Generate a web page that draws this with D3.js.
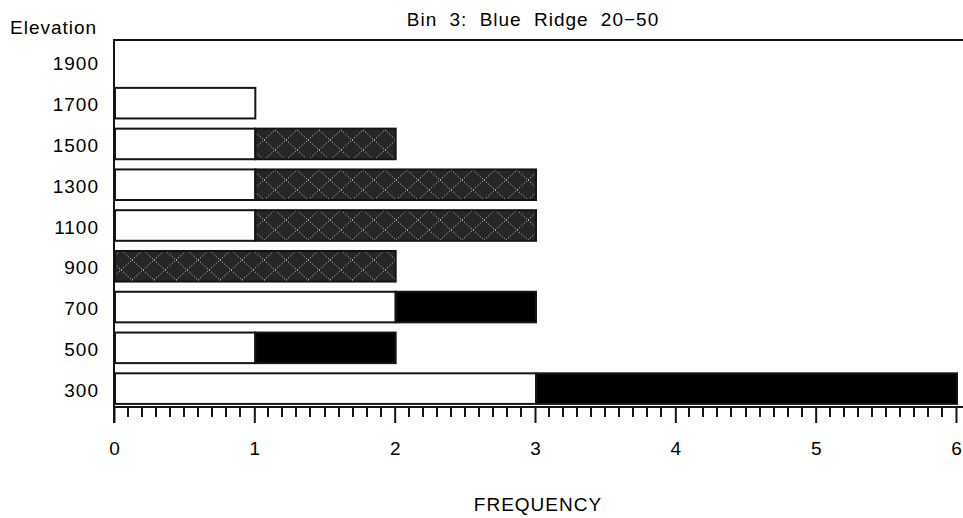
<!DOCTYPE html>
<html>
<head>
<meta charset="utf-8">
<script src="https://cdn.jsdelivr.net/npm/d3@7"></script>
<style>
  html, body { margin: 0; padding: 0; background: #fff; }
  svg { display: block; }
  text { font-family: "Liberation Sans", Arial, sans-serif; fill: #000; }
</style>
</head>
<body>
<svg id="chart" width="963" height="518"></svg>
<script>
// Elevation classes (top to bottom) and frequency per group
const elevations = ["1900", "1700", "1500", "1300", "1100", "900", "700", "500", "300"];
const groupA = [0, 1, 1, 1, 1, 0, 2, 1, 3];   // open bars
const groupB = [0, 0, 1, 2, 2, 2, 0, 0, 0];   // cross-hatched bars
const groupC = [0, 0, 0, 0, 0, 0, 1, 1, 3];   // solid bars
const xTicks = [0, 1, 2, 3, 4, 5, 6];
const titleText = "Bin 3: Blue Ridge 20\u221250";
const yLabel = "Elevation";
const xLabel = "FREQUENCY";

const svg = d3.select("#chart");
const W = 963;
const plotLeft = 114, plotTop = 40, axisY = 407, plotRight = 956;
const FONT = "Liberation Sans, Arial, sans-serif";

const x = d3.scaleLinear().domain([0, 6]).range([plotLeft, plotRight]);
const y = d3.scaleBand().domain(elevations).range([plotTop + 2, axisY + 2])
  .paddingInner(0.25).paddingOuter(0.125);

// cross-hatch fill
const defs = svg.append("defs");
const pat = defs.append("pattern").attr("id", "xhatch")
  .attr("patternUnits", "userSpaceOnUse").attr("width", 22).attr("height", 20);
pat.append("rect").attr("width", 22).attr("height", 20).attr("fill", "#262626");
pat.append("path").attr("d", "M0,0L22,20M0,20L22,0")
  .attr("stroke", "#e8e8e8").attr("stroke-width", 1).attr("stroke-dasharray", "1,2")
  .attr("fill", "none");

// stacked segments
const rows = elevations.map((e, i) => ({ e, a: groupA[i], b: groupB[i], c: groupC[i] }));
const segs = [];
rows.forEach(r => {
  let x0 = 0;
  [["a", "#fff"], ["b", "url(#xhatch)"], ["c", "#000"]].forEach(([k, fill]) => {
    if (r[k] > 0) { segs.push({ e: r.e, x0, x1: x0 + r[k], fill }); x0 += r[k]; }
  });
});

svg.append("g").selectAll("rect").data(segs).join("rect")
  .attr("x", d => x(d.x0) + 1)
  .attr("y", d => y(d.e))
  .attr("width", d => x(d.x1) - x(d.x0))
  .attr("height", y.bandwidth())
  .attr("fill", d => d.fill)
  .attr("stroke", "#141414")
  .attr("stroke-width", 2);

// frame: top line and left line
svg.append("line").attr("x1", plotLeft).attr("x2", W).attr("y1", plotTop).attr("y2", plotTop)
  .attr("stroke", "#141414").attr("stroke-width", 2);
svg.append("line").attr("x1", plotLeft).attr("x2", plotLeft).attr("y1", plotTop - 1).attr("y2", axisY + 16)
  .attr("stroke", "#141414").attr("stroke-width", 2);

// bottom axis line with major and minor ticks
svg.append("line").attr("x1", plotLeft).attr("x2", W).attr("y1", axisY).attr("y2", axisY)
  .attr("stroke", "#141414").attr("stroke-width", 2);
const minor = d3.range(0, 61).map(i => i / 10).filter(v => Math.abs(v - Math.round(v)) > 1e-9);
svg.append("g").selectAll("line").data(minor).join("line")
  .attr("x1", d => Math.round(x(d))).attr("x2", d => Math.round(x(d)))
  .attr("y1", axisY).attr("y2", axisY + 10)
  .attr("stroke", "#141414").attr("stroke-width", 2);

const xAxis = d3.axisBottom(x).tickValues(xTicks).tickFormat(d3.format("d"))
  .tickSize(16).tickPadding(19);
const gx = svg.append("g").attr("transform", `translate(0,${axisY})`).call(xAxis);
gx.select(".domain").remove();
gx.selectAll(".tick line").attr("stroke", "#141414").attr("stroke-width", 2);
gx.selectAll(".tick text").attr("font-size", 19).attr("font-family", FONT).attr("fill", "#000");

// elevation labels
const yAxis = d3.axisLeft(y).tickSize(0).tickPadding(15);
const gy = svg.append("g").attr("transform", `translate(${plotLeft},2)`).call(yAxis);
gy.select(".domain").remove();
gy.selectAll(".tick text").attr("font-size", 19).attr("font-family", FONT)
  .attr("letter-spacing", 1).attr("fill", "#000");

// titles
svg.append("text").attr("x", 533).attr("y", 26).attr("text-anchor", "middle")
  .attr("font-size", 19).attr("letter-spacing", 1).attr("word-spacing", 6).text(titleText);
svg.append("text").attr("x", 10).attr("y", 34).attr("font-size", 19)
  .attr("letter-spacing", 1).text(yLabel);
svg.append("text").attr("x", 538).attr("y", 511).attr("text-anchor", "middle")
  .attr("font-size", 19).attr("letter-spacing", 1).text(xLabel);
</script>
</body>
</html>
